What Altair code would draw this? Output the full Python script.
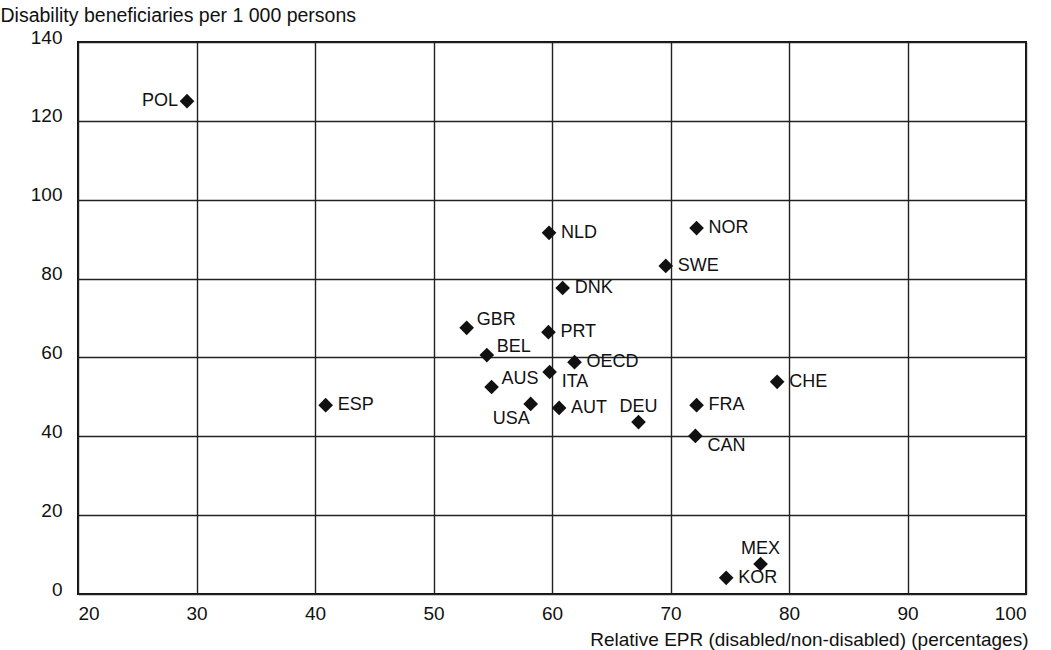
import altair as alt
import pandas as pd

countries = ["POL", "NLD", "NOR", "SWE", "DNK", "GBR", "PRT", "BEL", "OECD", "ITA",
             "AUS", "USA", "AUT", "DEU", "ESP", "FRA", "CAN", "CHE", "MEX", "KOR"]
epr = [29.2, 59.75, 72.2, 69.6, 60.9, 52.8, 59.7, 54.5, 61.9, 59.8,
       54.9, 58.2, 60.6, 67.3, 40.9, 72.2, 72.1, 79.0, 77.6, 74.7]
beneficiaries = [125.0, 91.6, 92.8, 83.2, 77.6, 67.5, 66.4, 60.6, 58.8, 56.3,
                 52.5, 48.2, 47.2, 43.6, 47.9, 47.9, 40.1, 53.8, 7.6, 4.1]
label_side = ["left", "right", "right", "right", "right", "upright", "right", "upright", "right", "downright",
              "upright", "downleft", "right", "up", "right", "right", "downright", "right", "up", "right"]

x_ticks = [20, 30, 40, 50, 60, 70, 80, 90, 100]
y_ticks = [0, 20, 40, 60, 80, 100, 120, 140]

df = pd.DataFrame({"country": countries, "epr": epr, "ben": beneficiaries, "side": label_side})

FONT = "Liberation Sans"
NARROW = "Liberation Sans Narrow, Liberation Sans"

x = alt.X("epr:Q", scale=alt.Scale(domain=[20, 100], nice=False),
          axis=alt.Axis(values=x_ticks, title="Relative EPR (disabled/non-disabled) (percentages)",
                        grid=True, gridColor="#222222", gridWidth=1.4, domain=False, ticks=False,
                        labelFont=NARROW, labelFontSize=19, labelColor="#111111", labelPadding=10,
                        titleFont=FONT, titleFontSize=19, titleFontWeight="normal", titleColor="#111111",
                        titleAlign="right", titleAnchor="end", titleX=950, titleY=51, titleBaseline="alphabetic"))
y = alt.Y("ben:Q", scale=alt.Scale(domain=[0, 140], nice=False),
          axis=alt.Axis(values=y_ticks, title="Disability beneficiaries per 1 000 persons",
                        grid=True, gridColor="#222222", gridWidth=1.4, domain=False, ticks=False,
                        labelFont=NARROW, labelFontSize=19, labelColor="#111111", labelAlign="right",
                        labelPadding=16, labelBaseline="middle", labelOffset=-5,
                        titleFont=FONT, titleFontSize=19.5, titleFontWeight="normal", titleColor="#111111",
                        titleAngle=0, titleAlign="left", titleX=-78, titleY=-21, titleBaseline="alphabetic"))

base = alt.Chart(df)

points = base.mark_point(shape="diamond", filled=True, size=215, color="#111111", opacity=1).encode(x=x, y=y)

def labels(side, align, dx, dy):
    return base.transform_filter(alt.datum.side == side).mark_text(
        font=FONT, fontSize=18, color="#111111", align=align, baseline="middle", dx=dx, dy=dy
    ).encode(x=alt.X("epr:Q"), y=alt.Y("ben:Q"), text="country:N")

chart = alt.layer(
    points,
    labels("right", "left", 12, 0),
    labels("left", "right", -9, 0),
    labels("upright", "left", 10, -8),
    labels("downright", "left", 12, 10),
    labels("downleft", "right", -1, 15),
    labels("up", "center", 0, -15),
).properties(
    width=948, height=552,
    autosize=alt.AutoSizeParams(type="none"),
    padding={"left": 78, "top": 42, "right": 25, "bottom": 56},
    background="white",
).configure_view(stroke="#111111", strokeWidth=2)

chart.save("out.html", embed_options={"renderer": "svg", "actions": False})
